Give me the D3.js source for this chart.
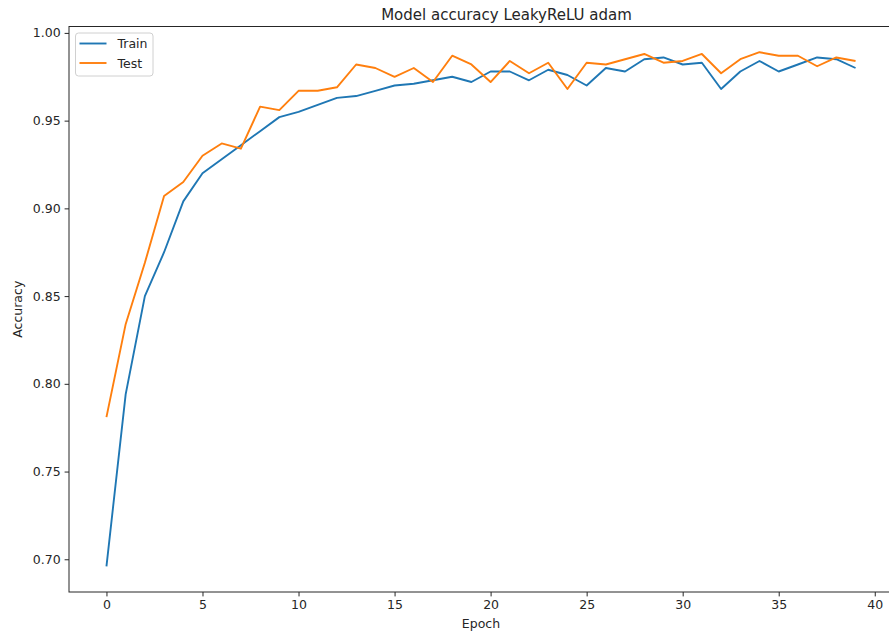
<!DOCTYPE html>
<html>
<head>
<meta charset="utf-8">
<script src="https://cdn.jsdelivr.net/npm/d3@7"></script>
<style>
  body { margin: 0; background: #fff; }
  text { font-family: "DejaVu Sans", sans-serif; fill: #262626; }
</style>
</head>
<body>
<svg id="chart" width="889" height="642"></svg>
<script>
// accuracy per epoch
var epochs = d3.range(0, 40);
var trainAcc = [0.696, 0.794, 0.850, 0.875, 0.904, 0.920, 0.928, 0.936, 0.944, 0.952,
                0.955, 0.959, 0.963, 0.964, 0.967, 0.970, 0.971, 0.973, 0.975, 0.972,
                0.978, 0.978, 0.973, 0.979, 0.976, 0.970, 0.980, 0.978, 0.985, 0.986,
                0.982, 0.983, 0.968, 0.978, 0.984, 0.978, 0.982, 0.986, 0.985, 0.980];
var testAcc  = [0.781, 0.834, 0.869, 0.907, 0.915, 0.930, 0.937, 0.934, 0.958, 0.956,
                0.967, 0.967, 0.969, 0.982, 0.980, 0.975, 0.980, 0.972, 0.987, 0.982,
                0.972, 0.984, 0.977, 0.983, 0.968, 0.983, 0.982, 0.985, 0.988, 0.983,
                0.984, 0.988, 0.977, 0.985, 0.989, 0.987, 0.987, 0.981, 0.986, 0.984];
var xTicks = [0, 5, 10, 15, 20, 25, 30, 35, 40];
var yTicks = [0.70, 0.75, 0.80, 0.85, 0.90, 0.95, 1.00];
var seriesNames = ["Train", "Test"];
var colors = ["#1f77b4", "#ff7f0e"];

// plot box (right side runs past the picture edge, as in the original)
var box = { left: 69, right: 893, top: 26.5, bottom: 592 };
var svg = d3.select("#chart");

var x = d3.scaleLinear().domain([-1.95, 40.95]).range([box.left, box.right]);
var yMin = d3.min(trainAcc.concat(testAcc)), yMax = d3.max(trainAcc.concat(testAcc));
var pad = (yMax - yMin) * 0.05;
var y = d3.scaleLinear().domain([yMin - pad, yMax + pad]).range([box.bottom, box.top]);

// axes
var xAxis = svg.append("g")
    .attr("transform", `translate(0,${box.bottom})`)
    .call(d3.axisBottom(x).tickValues(xTicks).tickSize(4.4).tickPadding(4))
    .style("font-size", "12.5px");
var yAxis = svg.append("g")
    .attr("transform", `translate(${box.left},0)`)
    .call(d3.axisLeft(y).tickValues(yTicks).tickFormat(d3.format(".2f")).tickSize(4.4).tickPadding(4))
    .style("font-size", "12.5px");
[xAxis, yAxis].forEach(function (a) {
    a.select(".domain").remove();
    a.selectAll("line").attr("stroke", "#262626").attr("stroke-width", 1);
    a.selectAll("text").attr("font-family", "DejaVu Sans").attr("fill", "#262626");
});

// lines
var line = d3.line()
    .x(function (d, i) { return x(epochs[i]); })
    .y(function (d) { return y(d); });
[trainAcc, testAcc].forEach(function (s, i) {
    svg.append("path")
        .datum(s)
        .attr("fill", "none")
        .attr("stroke", colors[i])
        .attr("stroke-width", 1.9)
        .attr("stroke-linejoin", "round")
        .attr("d", line);
});

// spines
svg.append("rect")
    .attr("x", box.left).attr("y", box.top)
    .attr("width", box.right - box.left).attr("height", box.bottom - box.top)
    .attr("fill", "none")
    .attr("stroke", "#262626")
    .attr("stroke-width", 1);

// title and labels
svg.append("text")
    .attr("x", 506.5).attr("y", 19.5)
    .attr("text-anchor", "middle")
    .style("font-size", "15px")
    .text("Model accuracy LeakyReLU adam");
svg.append("text")
    .attr("x", (box.left + box.right) / 2).attr("y", 628)
    .attr("text-anchor", "middle")
    .style("font-size", "12.5px")
    .text("Epoch");
svg.append("text")
    .attr("transform", `translate(22,${(box.top + box.bottom) / 2}) rotate(-90)`)
    .attr("text-anchor", "middle")
    .style("font-size", "12.5px")
    .text("Accuracy");

// legend
var legend = svg.append("g").attr("transform", "translate(75.5,33)");
legend.append("rect")
    .attr("width", 77.5).attr("height", 43)
    .attr("rx", 3)
    .attr("fill", "#fff").attr("fill-opacity", 0.8)
    .attr("stroke", "#d0d0d0");
seriesNames.forEach(function (name, i) {
    var g = legend.append("g").attr("transform", `translate(0,${10.5 + i * 19.5})`);
    g.append("line")
        .attr("x1", 4).attr("x2", 31)
        .attr("stroke", colors[i]).attr("stroke-width", 1.9);
    g.append("text")
        .attr("x", 42).attr("y", 4.5)
        .style("font-size", "12.5px")
        .text(name);
});
</script>
</body>
</html>
